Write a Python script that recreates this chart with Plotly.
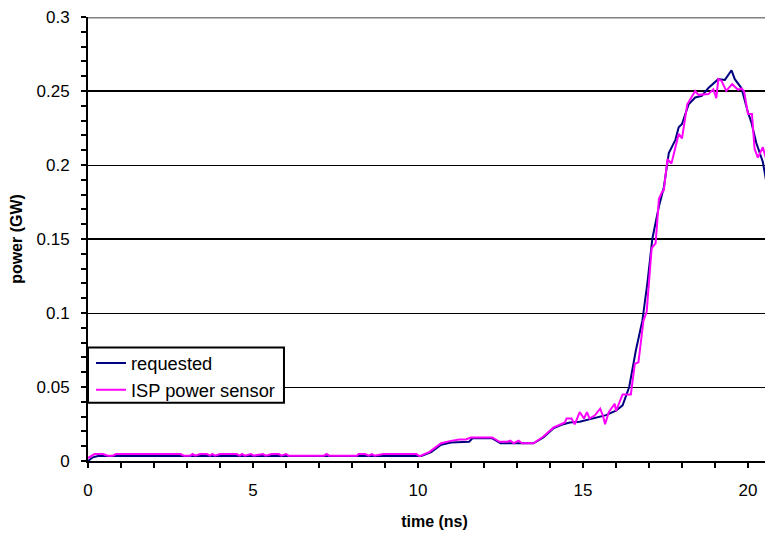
import plotly.graph_objects as go

# ---- data ----
t_req = [0, 0.15, 0.3, 1, 2, 3, 4, 5, 6, 7, 8, 9, 9.9, 10.1, 10.4, 10.7, 11.0, 11.55,
         11.65, 12.25, 12.5, 13.0, 13.5, 13.8, 14.1, 14.35, 14.6, 14.9, 15.4, 15.7, 16.0,
         16.2, 16.4, 16.6, 16.8, 16.95, 17.1, 17.3, 17.45, 17.6, 17.8, 17.9, 18.0, 18.2,
         18.4, 18.6, 18.8, 19.1, 19.3, 19.5, 19.6, 19.8, 20.0, 20.1, 20.25, 20.45, 20.7]
p_req = [0.0, 0.0025, 0.0033, 0.0033, 0.0033, 0.0033, 0.0033, 0.0033, 0.0033, 0.0033,
         0.0033, 0.0033, 0.0033, 0.0033, 0.006, 0.011, 0.0125, 0.013,
         0.0153, 0.0153, 0.012, 0.012, 0.012, 0.016, 0.022, 0.0245, 0.026, 0.0265, 0.029, 0.031, 0.034,
         0.0376, 0.05, 0.0745, 0.095, 0.12, 0.15, 0.172, 0.185, 0.208, 0.217, 0.2255, 0.2277, 0.241,
         0.2456, 0.2467, 0.252, 0.258, 0.2575, 0.264, 0.258, 0.252, 0.2355, 0.229, 0.215, 0.202, 0.17]

t_isp = [0, 0.2, 0.45, 0.6, 0.75, 0.85, 2.8, 2.9, 3.1, 3.17, 3.25, 3.4, 3.6, 3.7, 3.77, 3.85,
         4.0, 4.5, 4.6, 4.67, 4.75, 4.94, 5.02, 5.3, 5.38, 5.57, 5.78, 5.86, 6.0, 6.08,
         7.15, 7.23, 7.31, 8.15, 8.2, 8.4, 8.5, 8.6, 8.68, 8.95, 9.95, 10.05, 10.35, 10.7,
         11.0, 11.25, 11.45, 11.6, 12.25, 12.47, 12.7, 12.8, 12.9, 13.05, 13.15, 13.5, 13.8,
         14.1, 14.35, 14.45, 14.5, 14.65, 14.75, 14.9, 15.03, 15.12, 15.2, 15.36, 15.52, 15.6,
         15.67, 15.78, 15.96, 16.0, 16.2, 16.45, 16.57, 16.68, 16.83, 16.93, 17.08, 17.2, 17.3,
         17.4, 17.45, 17.56, 17.68, 17.9, 18.0, 18.16, 18.4, 18.5, 18.8, 18.95, 19.04, 19.1,
         19.2, 19.34, 19.52, 19.7, 19.8, 19.88, 20.0, 20.12, 20.2, 20.3, 20.45, 20.6, 20.7]
p_isp = [0.002, 0.0047, 0.0047, 0.0036, 0.0036, 0.0047, 0.0047, 0.0036, 0.0036, 0.0047, 0.0036,
         0.0047, 0.0047, 0.0036, 0.0047, 0.0036,
         0.0047, 0.0047, 0.0036, 0.0047, 0.0036, 0.0047, 0.0036, 0.0047, 0.0036, 0.0047, 0.0047,
         0.0036, 0.0047, 0.0036,
         0.0036, 0.0047, 0.0036, 0.0036, 0.0047, 0.0047, 0.0036, 0.0047, 0.0036, 0.0047, 0.0047,
         0.0033, 0.0062, 0.012,
         0.0136, 0.0145, 0.0145, 0.0159, 0.0159, 0.013, 0.013, 0.0137, 0.012, 0.0137, 0.012,
         0.012, 0.0165,
         0.0225, 0.025, 0.026, 0.0287, 0.0287, 0.0248, 0.033, 0.0287, 0.033, 0.0287, 0.0309,
         0.0354, 0.0309,
         0.0248, 0.033, 0.0387, 0.0338, 0.045, 0.045, 0.0656, 0.0667, 0.0946, 0.101, 0.1438,
         0.147, 0.177,
         0.182, 0.183, 0.204, 0.201, 0.221, 0.218, 0.241, 0.25, 0.2474, 0.2479, 0.2512, 0.2452,
         0.258,
         0.2568, 0.25, 0.2546, 0.2508, 0.2517, 0.25, 0.2344, 0.2344, 0.211, 0.205, 0.212, 0.2,
         0.195]

series_names = ["requested", "ISP power sensor"]
x_ticks = [0, 5, 10, 15, 20]
y_ticks = [0, 0.05, 0.1, 0.15, 0.2, 0.25, 0.3]
y_tick_text = ["0", "0.05", "0.1", "0.15", "0.2", "0.25", "0.3"]
heavy_grid = [0.15, 0.25]
top_grid = 0.3

FONT = "Liberation Sans, Arial, sans-serif"

fig = go.Figure()
fig.add_trace(go.Scatter(x=t_req, y=p_req, mode="lines", name=series_names[0],
                         line=dict(color="#000080", width=2)))
fig.add_trace(go.Scatter(x=t_isp, y=p_isp, mode="lines", name=series_names[1],
                         line=dict(color="#FF00FF", width=2)))

shapes = []
for g in heavy_grid:
    shapes.append(dict(type="line", xref="paper", x0=0, x1=1, yref="y", y0=g, y1=g,
                       line=dict(color="black", width=2), layer="below"))
shapes.append(dict(type="line", xref="paper", x0=0, x1=1, yref="y", y0=top_grid, y1=top_grid,
                   line=dict(color="#808080", width=3), layer="above"))
# legend frame
shapes.append(dict(type="rect", xref="paper", yref="paper", x0=0.0, x1=0.2828,
                   y0=0.1311, y1=0.2556, fillcolor="white",
                   line=dict(color="black", width=2), layer="above"))

fig.update_layout(
    width=773, height=537,
    margin=dict(l=80, r=0, t=3, b=84),
    paper_bgcolor="white", plot_bgcolor="white",
    font=dict(family=FONT, color="black", size=17),
    shapes=shapes,
    showlegend=True,
    legend=dict(x=0.0043, y=0.2622, xanchor="left", yanchor="top",
                borderwidth=0, bgcolor="rgba(0,0,0,0)",
                font=dict(family=FONT, size=18.3, color="black"),
                tracegroupgap=0),
    xaxis=dict(range=[0, 21], tickvals=x_ticks, ticktext=[str(v) for v in x_ticks],
               showgrid=False, zeroline=False, showline=True, linecolor="black", linewidth=2,
               ticks="outside", ticklen=5, tickwidth=2, tickcolor="black",
               minor=dict(dtick=1, ticks="outside", ticklen=5, tickwidth=2, tickcolor="black",
                          showgrid=False),
               tickfont=dict(size=17), ticklabelstandoff=8, ticklabeloverflow="allow",
               title=dict(text="<b>time (ns)</b>", font=dict(size=16), standoff=16)),
    yaxis=dict(range=[0, 0.3], tickvals=y_ticks, ticktext=y_tick_text,
               showgrid=True, gridcolor="black", gridwidth=1,
               zeroline=False, showline=True, linecolor="black", linewidth=2,
               ticks="outside", ticklen=5, tickwidth=2, tickcolor="black",
               minor=dict(dtick=0.01, ticks="outside", ticklen=5, tickwidth=2,
                          tickcolor="black", showgrid=False),
               tickfont=dict(size=17), ticklabelstandoff=8, ticklabeloverflow="allow",
               title=dict(text="<b>power (GW)</b>", font=dict(size=16), standoff=12)),
)

fig.write_html("out.html")
